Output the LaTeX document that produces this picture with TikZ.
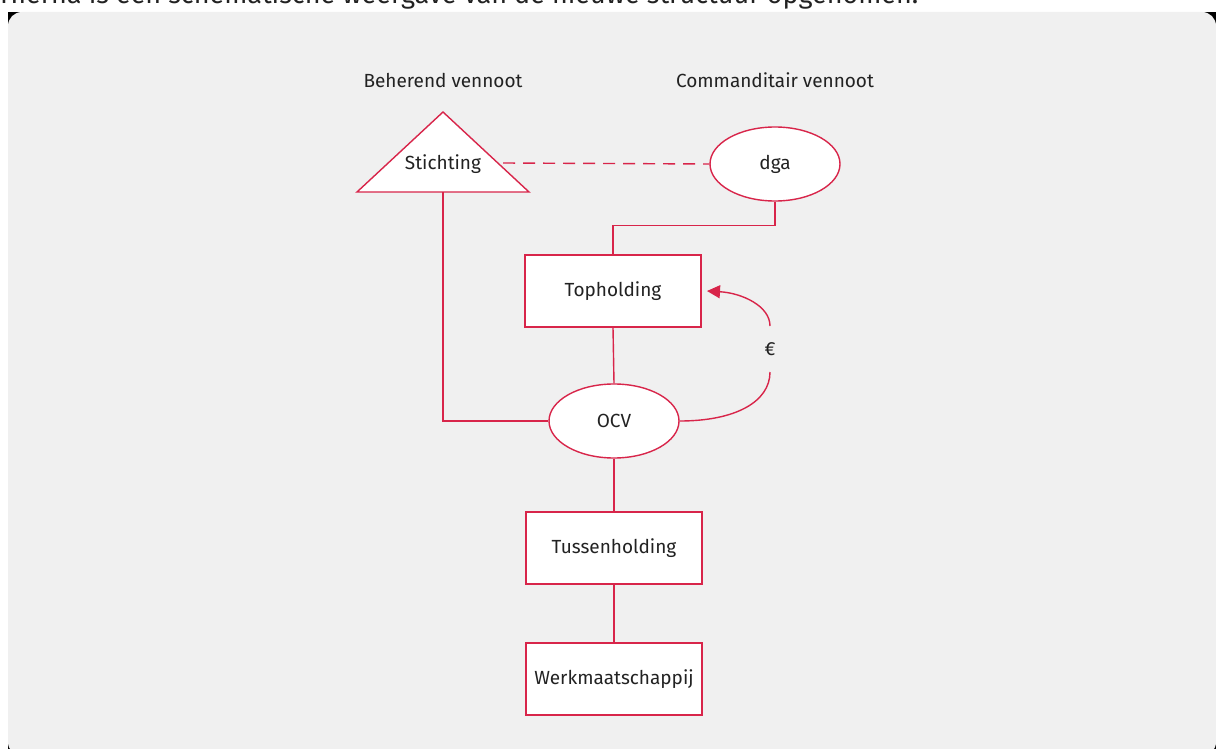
\documentclass[tikz,border=0pt]{standalone}
\usepackage{fontspec}
\setmainfont{Fira Sans}
\usetikzlibrary{shapes.geometric,arrows.meta}
\definecolor{frame}{HTML}{D8254A}
\definecolor{panel}{HTML}{F0F0F0}
\definecolor{ink}{HTML}{222222}
\tikzset{
  box/.style={draw=frame,fill=white,line width=1.4pt,minimum width=176pt,minimum height=72pt,text=ink,font=\fontsize{19}{22}\selectfont},
  oval/.style={ellipse,draw=frame,fill=white,line width=1.4pt,minimum width=130pt,minimum height=74pt,text=ink,font=\fontsize{19}{22}\selectfont},
  lbl/.style={text=ink,font=\fontsize{19}{22}\selectfont},
  link/.style={draw=frame,line width=1.4pt},
}
\begin{document}
\begin{tikzpicture}[x=1pt,y=-1pt]
\useasboundingbox (0,0) rectangle (1216,749);
\fill[white] (0,0) rectangle (1216,749);
\begin{scope}
\clip (0,0) rectangle (1216,749);
\node[anchor=base west,inner sep=0pt,text=ink] (head) at (0,4) {\resizebox{918pt}{!}{Hierna is een schematische weergave van de nieuwe structuur opgenomen.}};
\fill[black] (8,12) rectangle (1216,749);
\fill[panel,rounded corners=14pt] (8,12) rectangle (1216,756);
\end{scope}
% titles
\node[lbl] (beh) at (443,80) {Beherend vennoot};
\node[lbl] (com) at (775,80) {Commanditair vennoot};
% shapes
\draw[link,fill=white] (443,112) -- (529,192) -- (357,192) -- cycle;
\coordinate (stb) at (443,192);
\coordinate (str) at (503,163);
\node[lbl] (stichting) at (443,164) {Stichting};
\node[oval] (dga) at (775,164) {dga};
\node[box] (top) at (613,291) {Topholding};
\node[oval] (ocv) at (614,421) {OCV};
\node[box] (tus) at (614,548) {Tussenholding};
\node[box] (werk) at (614,679) {Werkmaatschappij};
\node[lbl,inner sep=2pt] (euro) at (770,349) {€};
% connectors
\draw[link,dashed,dash pattern=on 12pt off 8pt] (str) -- (dga.west);
\draw[link] (dga.south) -- ++(0,24) -| (top.north);
\draw[link] (top.south) -- (ocv.north);
\draw[link] (stb) |- (ocv.west);
\draw[link] (ocv.south) -- (tus.north);
\draw[link] (tus.south) -- (werk.north);
\draw[link] (ocv.east) .. controls (735,421) and (770,402) .. (770,372);
\draw[link,-{Triangle[length=13pt,width=13pt]},shorten >=0pt] (770,326) .. controls (770,306) and (742,293) .. (707,291);
\end{tikzpicture}
\end{document}
